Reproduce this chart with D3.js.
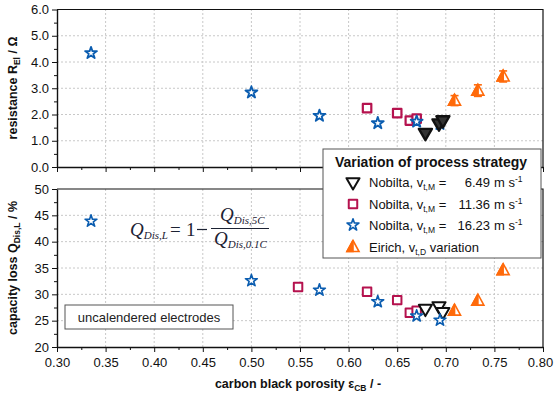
<!DOCTYPE html>
<html>
<head>
<meta charset="utf-8">
<script src="https://cdn.jsdelivr.net/npm/d3@7"></script>
<style>
  body { margin: 0; background: #fff; }
  svg { font-family: "Liberation Sans", Arial, sans-serif; }
  .axis path, .axis line { stroke: #111; }
  .axis text { font-size: 13px; fill: #111; }
  .grid line { stroke: #c8c8c8; stroke-dasharray: 2,2; }
</style>
</head>
<body>
<div id="chart"></div>
<script>
// --- data ---
const xTicks = [0.30, 0.35, 0.40, 0.45, 0.50, 0.55, 0.60, 0.65, 0.70, 0.75, 0.80];
const resTicks = [0, 1, 2, 3, 4, 5, 6];
const lossTicks = [20, 25, 30, 35, 40, 45, 50];

// Nobilta 16.23 m/s (stars)
const starX = [0.335, 0.50, 0.57, 0.63, 0.670, 0.694];
const starRes = [4.34, 2.84, 1.95, 1.67, 1.73, 1.64];
const starLoss = [43.9, 32.6, 30.8, 28.6, 25.9, 25.1];

// Nobilta 11.36 m/s (squares)
const sqResX = [0.619, 0.650, 0.663, 0.670];
const sqRes = [2.24, 2.05, 1.77, 1.84];
const sqLossX = [0.548, 0.619, 0.650, 0.663, 0.670];
const sqLoss = [31.4, 30.5, 28.9, 26.5, 26.9];

// Nobilta 6.49 m/s (down triangles)
const triX = [0.679, 0.693, 0.697];
const triRes = [1.31, 1.67, 1.79];
const triLoss = [27.3, 27.8, 26.7];

// Eirich (half-filled up triangles)
const eirX = [0.709, 0.733, 0.759];
const eirRes = [2.53, 2.91, 3.45];
const eirResErr = [0.19, 0.22, 0.21];
const eirLoss = [26.9, 28.8, 34.6];

const legendLabels = ["6.49", "11.36", "16.23"];

const cBlue = "#0b5db0", cRed = "#b5124e", cOrange = "#ff6a0a", cBlack = "#111";

const W = 554, H = 396;
const svg = d3.select("#chart").append("svg").attr("width", W).attr("height", H);

const x = d3.scaleLinear().domain([0.30, 0.80]).range([57, 543]);
const yTop = d3.scaleLinear().domain([0, 6]).range([167, 9.5]);
const yBot = d3.scaleLinear().domain([20, 50]).range([347, 189]);

function panel(y, ticks, minor, fmt, withXLabels) {
  const g = svg.append("g");
  const [y0, y1] = y.range();
  // grid
  g.append("g").attr("class", "grid").selectAll("line.v")
    .data(xTicks.slice(1, -1)).join("line")
    .attr("x1", d => x(d)).attr("x2", d => x(d)).attr("y1", y0).attr("y2", y1);
  g.append("g").attr("class", "grid").selectAll("line.h")
    .data(ticks.slice(1, -1)).join("line")
    .attr("x1", x.range()[0]).attr("x2", x.range()[1]).attr("y1", d => y(d)).attr("y2", d => y(d));
  // frame top/right
  g.append("path").attr("fill", "none").attr("stroke", "#111").attr("stroke-width", 1.2)
    .attr("d", `M${x.range()[0]},${y1}H${x.range()[1]}V${y0}`);
  // y axis
  g.append("g").attr("class", "axis").attr("transform", `translate(${x.range()[0]},0)`)
    .call(d3.axisLeft(y).tickValues(minor).tickSize(3).tickFormat("").tickSizeOuter(0))
    .call(a => a.select(".domain").remove());
  g.append("g").attr("class", "axis").attr("transform", `translate(${x.range()[0]},0)`)
    .call(d3.axisLeft(y).tickValues(ticks).tickSize(5).tickFormat(fmt).tickSizeOuter(0).tickPadding(3))
    .call(a => a.select(".domain").attr("stroke-width", 1.4));
  // x axis
  const xMinor = d3.range(0.325, 0.8, 0.05);
  g.append("g").attr("class", "axis").attr("transform", `translate(0,${y0})`)
    .call(d3.axisBottom(x).tickValues(xMinor).tickSize(3).tickFormat("").tickSizeOuter(0))
    .call(a => a.select(".domain").remove());
  g.append("g").attr("class", "axis").attr("transform", `translate(0,${y0})`)
    .call(d3.axisBottom(x).tickValues(xTicks).tickSize(5).tickSizeOuter(0).tickPadding(6)
      .tickFormat(withXLabels ? d3.format(".2f") : ""))
    .call(a => a.select(".domain").attr("stroke-width", 1.4))
    .call(a => a.selectAll(".tick text").filter(d => d === 0.80).attr("dx", -3));
  return g;
}

panel(yTop, resTicks, d3.range(0.5, 6, 1), d3.format(".1f"), false);
panel(yBot, lossTicks, d3.range(22.5, 50, 5), d3.format("d"), true);

// --- markers ---
const star = d3.symbol().type(d3.symbolStar).size(44)();
const square = d3.symbol().type(d3.symbolSquare).size(72)();
const tri = d3.symbol().type(d3.symbolTriangle).size(74)();

function drawSeries(y, xs, ys, path, color, opts = {}) {
  const g = svg.append("g");
  g.selectAll("path").data(xs.map((d, i) => [d, ys[i]])).join("path")
    .attr("d", path)
    .attr("transform", d => `translate(${x(d[0])},${y(d[1])})${opts.rotate ? " rotate(180)" : ""}`)
    .attr("fill", opts.fill || "#fff")
    .attr("stroke", color).attr("stroke-width", opts.sw || 2)
    .attr("stroke-linejoin", "round");
}

function drawEirich(y, xs, ys, errs) {
  const g = svg.append("g");
  const pts = xs.map((d, i) => ({ x: x(d), y: y(ys[i]), e: errs ? errs[i] : null, v: ys[i] }));
  if (errs) {
    const eg = g.selectAll("g.err").data(pts).join("g").attr("stroke", cOrange).attr("stroke-width", 1.6);
    eg.append("line").attr("x1", d => d.x).attr("x2", d => d.x)
      .attr("y1", d => y(d.v + d.e)).attr("y2", d => y(d.v - d.e));
    eg.append("line").attr("x1", d => d.x - 4).attr("x2", d => d.x + 4)
      .attr("y1", d => y(d.v + d.e)).attr("y2", d => y(d.v + d.e));
    eg.append("line").attr("x1", d => d.x - 4).attr("x2", d => d.x + 4)
      .attr("y1", d => y(d.v - d.e)).attr("y2", d => y(d.v - d.e));
  }
  const s = g.selectAll("g.m").data(pts).join("g")
    .attr("transform", d => `translate(${d.x},${d.y})`);
  s.append("path").attr("d", "M0,-6.5L6,4.5H-6Z").attr("fill", "#fff")
    .attr("stroke", cOrange).attr("stroke-width", 1.6);
  s.append("path").attr("d", "M0,-6.5L0,4.5H-6Z").attr("fill", cOrange)
    .attr("stroke", cOrange).attr("stroke-width", 1.6);
  if (errs) {
    s.append("line").attr("x1", 0).attr("x2", 0).attr("y1", -6).attr("y2", 4)
      .attr("stroke", cOrange).attr("stroke-width", 1.6);
  }
}

// top panel
drawSeries(yTop, sqResX, sqRes, square, cRed, { sw: 2.2 });
drawSeries(yTop, starX, starRes, star, cBlue, { sw: 1.8 });
drawSeries(yTop, triX, triRes, tri, cBlack, { rotate: true, sw: 2.4, fill: "#333" });
drawEirich(yTop, eirX, eirRes, eirResErr);

// bottom panel
drawSeries(yBot, sqLossX, sqLoss, square, cRed, { sw: 2 });
drawSeries(yBot, triX, triLoss, tri, cBlack, { rotate: true, sw: 2 });
drawSeries(yBot, starX, starLoss, star, cBlue, { sw: 1.6 });
drawEirich(yBot, eirX, eirLoss, null);

// --- axis titles ---
function title(tx, ty, rot, parts) {
  const t = svg.append("text").attr("transform", `translate(${tx},${ty}) rotate(${rot})`)
    .attr("text-anchor", "middle").attr("font-weight", "bold").attr("font-size", 12.5).attr("fill", "#111");
  parts.forEach(p => {
    const sp = t.append("tspan").text(p[0]);
    if (p[1] === "sub") sp.attr("font-size", 8.5).attr("dy", 3);
    if (p[1] === "back") sp.attr("dy", -3);
  });
}
title(17, 88, -90, [["resistance R"], ["El", "sub"], [" / Ω", "back"]]);
title(17, 268, -90, [["capacity loss Q"], ["Dis,L", "sub"], [" / %", "back"]]);
title(298, 388, 0, [["carbon black porosity ε"], ["CB", "sub"], [" / -", "back"]]);

// --- formula ---
const fm = svg.append("g").attr("font-family", "'Liberation Serif', 'DejaVu Serif', serif").attr("fill", "#1c2233");
function qTerm(px, py, sub) {
  const t = fm.append("text").attr("x", px).attr("y", py);
  t.append("tspan").text("Q").attr("font-style", "italic").attr("font-size", 19);
  t.append("tspan").text(sub).attr("font-style", "italic").attr("font-size", 11).attr("dy", 3);
}
qTerm(130, 236, "Dis,L");
fm.append("text").attr("x", 170).attr("y", 236).attr("font-size", 19).text("=");
fm.append("text").attr("x", 186).attr("y", 236).attr("font-size", 19).text("1");
fm.append("line").attr("x1", 197).attr("x2", 207).attr("y1", 229.5).attr("y2", 229.5)
  .attr("stroke", "#1c2233").attr("stroke-width", 1.2);
qTerm(220, 221, "Dis,5C");
fm.append("line").attr("x1", 211).attr("x2", 269).attr("y1", 228.5).attr("y2", 228.5)
  .attr("stroke", "#1c2233").attr("stroke-width", 1);
qTerm(214, 245, "Dis,0.1C");

// --- annotation box ---
svg.append("rect").attr("x", 65).attr("y", 305).attr("width", 168).attr("height", 24)
  .attr("fill", "#fff").attr("stroke", "#555").attr("stroke-width", 1);
svg.append("text").attr("x", 149).attr("y", 321.5).attr("text-anchor", "middle")
  .attr("font-size", 13).attr("fill", "#222").text("uncalendered electrodes");

// --- legend ---
const lg = svg.append("g");
lg.append("rect").attr("x", 323).attr("y", 149).attr("width", 218).attr("height", 109)
  .attr("fill", "#fff").attr("stroke", "#555").attr("stroke-width", 1);
lg.append("text").attr("x", 431).attr("y", 166.5).attr("text-anchor", "middle")
  .attr("font-weight", "bold").attr("font-size", 14).attr("fill", "#111").text("Variation of process strategy");
const rowsY = [182, 204, 225, 247];
const legSym = [
  { p: tri, c: cBlack, rot: true, sw: 2 },
  { p: square, c: cRed, sw: 2 },
  { p: star, c: cBlue, sw: 1.6 }
];
legSym.forEach((s, i) => {
  lg.append("path").attr("d", s.p)
    .attr("transform", `translate(353,${rowsY[i]})${s.rot ? " rotate(180)" : ""}`)
    .attr("fill", "#fff").attr("stroke", s.c).attr("stroke-width", s.sw).attr("stroke-linejoin", "round");
  const t = lg.append("text").attr("x", 369).attr("y", rowsY[i] + 4.5).attr("font-size", 13).attr("fill", "#111");
  t.append("tspan").text("Nobilta, v");
  t.append("tspan").text("t,M").attr("font-size", 8.5).attr("dy", 3);
  t.append("tspan").text(" =").attr("dy", -3);
  lg.append("text").attr("x", 490).attr("y", rowsY[i] + 4.5).attr("text-anchor", "end")
    .attr("font-size", 13).attr("fill", "#111").text(legendLabels[i]);
  const u = lg.append("text").attr("x", 494).attr("y", rowsY[i] + 4.5).attr("font-size", 13).attr("fill", "#111");
  u.append("tspan").text("m s");
  u.append("tspan").text("-1").attr("font-size", 8.5).attr("dy", -5);
});
{
  const s = lg.append("g").attr("transform", `translate(353,${rowsY[3]})`);
  s.append("path").attr("d", "M0,-6.5L6,4.5H-6Z").attr("fill", "#fff").attr("stroke", cOrange).attr("stroke-width", 1.6);
  s.append("path").attr("d", "M0,-6.5L0,4.5H-6Z").attr("fill", cOrange).attr("stroke", cOrange).attr("stroke-width", 1.6);
  const t = lg.append("text").attr("x", 369).attr("y", rowsY[3] + 4.5).attr("font-size", 13).attr("fill", "#111");
  t.append("tspan").text("Eirich, v");
  t.append("tspan").text("t,D").attr("font-size", 8.5).attr("dy", 3);
  t.append("tspan").text(" variation").attr("dy", -3);
}
</script>
</body>
</html>
